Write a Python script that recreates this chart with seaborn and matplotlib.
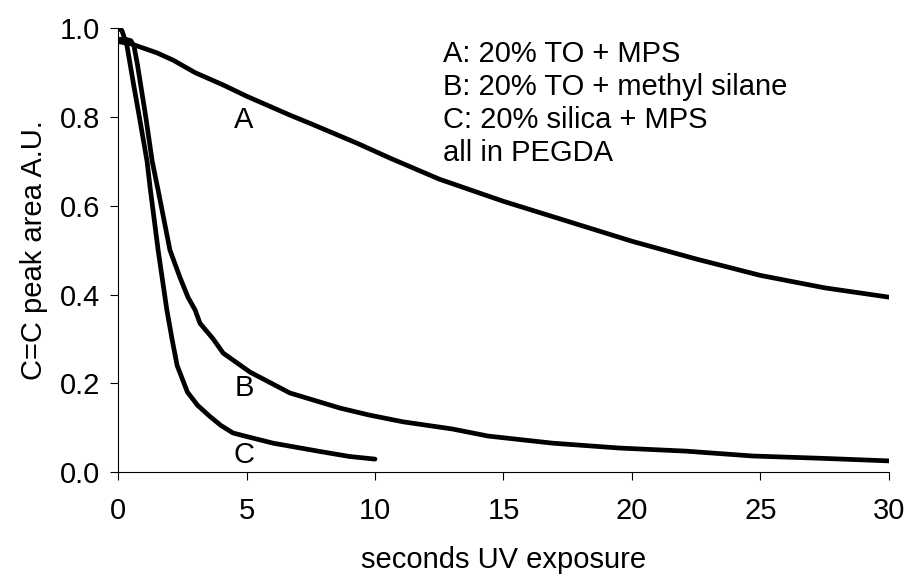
import matplotlib
matplotlib.use("Agg")
import matplotlib.pyplot as plt
import seaborn as sns
import pandas as pd

# Curve A: 20% TO + MPS
a_x = [0, 0.5, 1.0, 1.5, 2.15, 3.0, 4.1, 5.0, 6.7, 7.5, 9.3, 10.6, 12.5, 15, 17.5, 20, 22.5,
       25, 27.5, 30]
a_y = [0.97, 0.965, 0.955, 0.945, 0.928, 0.90, 0.872, 0.847, 0.804, 0.785, 0.741, 0.707, 0.66,
       0.61, 0.565, 0.52, 0.48, 0.443, 0.415, 0.394]

# Curve B: 20% TO + methyl silane
b_x = [0, 0.3, 0.5, 0.62, 0.75, 1.08, 1.33, 1.56, 2.02, 2.4, 2.72, 3.0, 3.19, 3.7, 4.09, 5.14,
       6.69, 8.64, 9.8, 11.1, 13.0, 14.4, 16.9, 19.5, 22.1, 24.7, 27.3, 30]
b_y = [0.975, 0.975, 0.972, 0.96, 0.92, 0.80, 0.70, 0.635, 0.50, 0.44, 0.394, 0.365, 0.335,
       0.30, 0.268, 0.225, 0.178, 0.144, 0.128, 0.113, 0.097, 0.081, 0.065, 0.054, 0.047,
       0.036, 0.031, 0.025]

# Curve C: 20% silica + MPS
c_x = [0, 0.15, 0.35, 0.6, 0.83, 1.13, 1.25, 1.56, 1.9, 2.1, 2.3, 2.7, 3.1, 3.58, 4.0, 4.47,
       5.0, 6.03, 7.0, 7.98, 9.0, 10.0]
c_y = [1.0, 0.995, 0.96, 0.875, 0.80, 0.70, 0.64, 0.50, 0.365, 0.30, 0.24, 0.18, 0.15, 0.125,
       0.105, 0.088, 0.08, 0.065, 0.055, 0.045, 0.035, 0.029]

curve_labels = ["A", "B", "C"]
label_pos_x = [4.9, 4.9, 4.9]
label_pos_y = [0.793, 0.189, 0.038]
legend_lines = ["A: 20% TO + MPS", "B: 20% TO + methyl silane",
                "C: 20% silica + MPS", "all in PEGDA"]
x_ticks = [0, 5, 10, 15, 20, 25, 30]
y_ticks = [0.0, 0.2, 0.4, 0.6, 0.8, 1.0]

sns.set_style("ticks")
plt.rcParams["font.family"] = ["Liberation Sans", "DejaVu Sans"]
plt.rcParams["text.color"] = "black"
plt.rcParams["axes.labelcolor"] = "black"
plt.rcParams["xtick.color"] = "black"
plt.rcParams["ytick.color"] = "black"

df = pd.concat([
    pd.DataFrame({"t": a_x, "v": a_y, "s": "A"}),
    pd.DataFrame({"t": b_x, "v": b_y, "s": "B"}),
    pd.DataFrame({"t": c_x, "v": c_y, "s": "C"}),
])

FS = 21
fig = plt.figure(figsize=(9.08, 5.77), dpi=100)
ax = fig.add_axes([0.13, 0.182, 0.849, 0.769])
for s in ["A", "B", "C"]:
    sns.lineplot(data=df[df.s == s], x="t", y="v", color="black", linewidth=3.4,
                 sort=False, estimator=None, ax=ax)

ax.set_xlim(0, 30)
ax.set_ylim(0, 1.0)
ax.set_xticks(x_ticks)
ax.set_yticks(y_ticks)
ax.set_xticklabels([str(v) for v in x_ticks])
ax.set_yticklabels([f"{v:.1f}" for v in y_ticks])
ax.tick_params(axis="both", labelsize=FS, length=6, width=0.8, color="black",
               labelcolor="black")
ax.tick_params(axis="x", pad=12)
ax.tick_params(axis="y", pad=7)
for sp in ["top", "right"]:
    ax.spines[sp].set_visible(False)
for sp in ["left", "bottom"]:
    ax.spines[sp].set_linewidth(0.8)
    ax.spines[sp].set_color("black")
ax.set_xlabel("seconds UV exposure", fontsize=FS, labelpad=15, color="black")
ax.set_ylabel("C=C peak area A.U.", fontsize=FS, labelpad=8, color="black")

for lab, lx, ly in zip(curve_labels, label_pos_x, label_pos_y):
    ax.text(lx, ly, lab, fontsize=FS, ha="center", va="center", color="black")

legend_y = [0.924, 0.849, 0.775, 0.700]
for line, ly in zip(legend_lines, legend_y):
    ax.text(0.4215, ly, line, transform=ax.transAxes, fontsize=FS,
            va="baseline", ha="left", color="black")

fig.savefig("out.png", dpi=100)
